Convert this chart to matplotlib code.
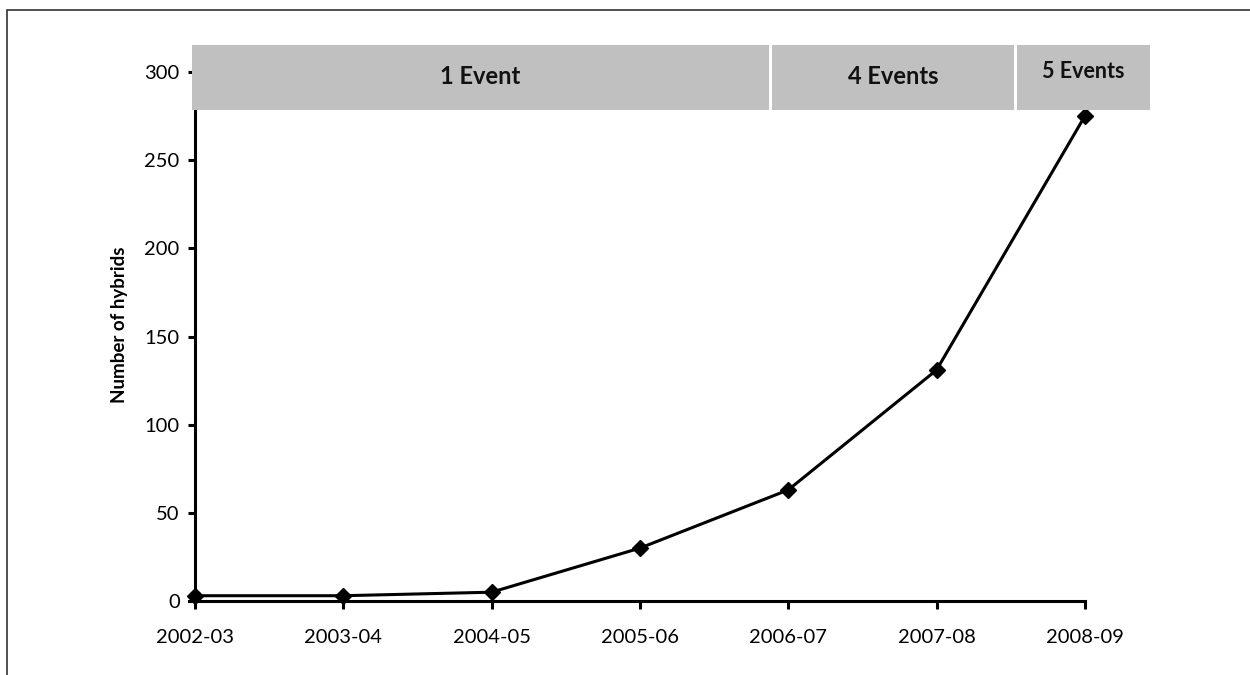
import matplotlib.pyplot as plt
from matplotlib.patches import Rectangle

# data
seasons = ['2002-03', '2003-04', '2004-05', '2005-06', '2006-07', '2007-08', '2008-09']
hybrids = [3, 3, 5, 30, 63, 131, 275]

# event bands across the top: label, start, end (in season index units)
band_labels = ['1 Event', '4 Events', '5 Events']
band_starts = [-0.02, 3.89, 5.54]
band_ends = [3.87, 5.52, 6.44]
band_sizes = [17, 17, 15.5]

plt.rcParams['font.family'] = ['Lato', 'DejaVu Sans']

fig = plt.figure(figsize=(12.5, 6.75), dpi=100)
ax = fig.add_axes([180 / 1250, 65 / 675, 980 / 1250, 570 / 675])

x = list(range(len(seasons)))
ax.plot(x, hybrids, color='black', lw=2.2, marker='D', ms=8, zorder=3, clip_on=False)

ax.set_xlim(-0.101, 6.507)
ax.set_ylim(-5.1, 318.2)

ax.spines['top'].set_visible(False)
ax.spines['right'].set_visible(False)
ax.spines['bottom'].set_position(('data', 0))
ax.spines['bottom'].set_bounds(-0.04, 6)
ax.spines['left'].set_bounds(0, 300)
ax.spines['left'].set_position(('data', 0))
for s in ['left', 'bottom']:
    ax.spines[s].set_linewidth(2.2)

ax.set_xticks(x)
ax.set_xticklabels(seasons)
ax.set_yticks([0, 50, 100, 150, 200, 250, 300])
ax.tick_params(axis='x', direction='out', length=6, width=2.2, labelsize=14.5, pad=14)
ax.tick_params(axis='y', direction='out', length=5, width=2.2, labelsize=14.5, pad=6)
ax.set_ylabel('Number of hybrids', fontsize=13.5, fontweight='bold', labelpad=12)

# grey bands with event counts
for lab, s, e, fs in zip(band_labels, band_starts, band_ends, band_sizes):
    ax.add_patch(Rectangle((s, 278.5), e - s, 37, facecolor='#c0c0c0', edgecolor='none',
                           zorder=4, clip_on=False))
    ty = 297.5 if fs > 16 else 300.5
    ax.text((s + e) / 2, ty, lab, ha='center', va='center', fontsize=fs,
            fontweight='bold', color='#111111', zorder=5)

# outer frame
fig.patches.append(Rectangle((7 / 1250, -0.1), 1.2, 1.1 - 10 / 675, transform=fig.transFigure,
                             fill=False, edgecolor='#333333', lw=1.2))

fig.savefig('out.png', dpi=100)
